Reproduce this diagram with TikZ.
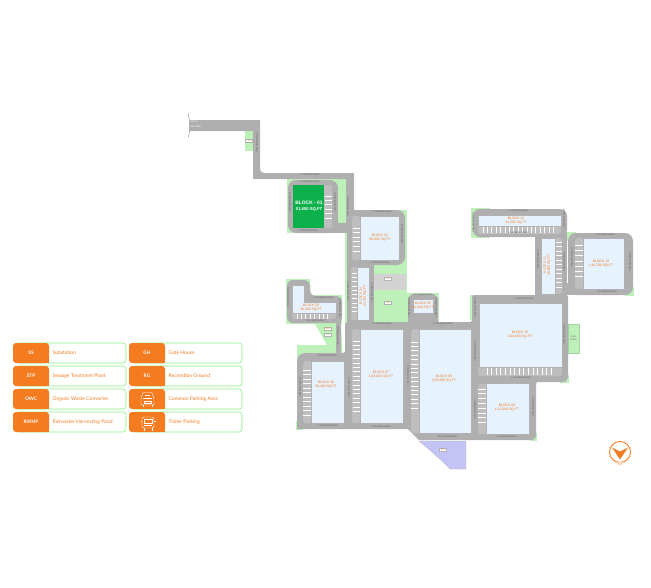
\documentclass[tikz,border=0pt]{standalone}
\usepackage{fontspec}
\setmainfont{Liberation Sans}
\newfontfamily\legendfont{Lato}
\definecolor{roadgrey}{HTML}{AFAFAF}
\definecolor{baygrey}{HTML}{BEBEBE}
\definecolor{lawn}{HTML}{BDF1B9}
\definecolor{blockfill}{HTML}{E6F2FD}
\definecolor{orangeA}{HTML}{F47B20}
\definecolor{blockgreen}{HTML}{0DB14B}
\definecolor{lav}{HTML}{C3C3F5}
\tikzset{
 road/.style={fill=roadgrey,draw=none},
 lawnarea/.style={fill=lawn,draw=none},
 bay/.style={fill=baygrey,draw=none,rounded corners=2.5pt},
 block/.style={fill=blockfill,draw=black!30,line width=0.3pt},
 stall/.style={draw=white,line width=0.7pt},
 blocklabel/.style={text=orangeA,font=\fontsize{3.4}{4.2}\selectfont,align=center,inner sep=0pt},
 roadlabel/.style={text=black!65,font=\fontsize{2.3}{3}\selectfont,inner sep=0pt},
 tag/.style={fill=white,draw=black!30,line width=0.25pt,text=orangeA,font=\fontsize{2}{2.4}\selectfont,minimum width=7pt,minimum height=3.2pt,inner sep=0pt},
 cardbox/.style={fill=white,draw=lawn!70!green,line width=0.6pt,rounded corners=3pt},
 cardhead/.style={fill=orangeA,draw=none,rounded corners=3pt},
 cardkey/.style={text=white,font=\legendfont\bfseries\fontsize{4.8}{6}\selectfont,inner sep=0pt},
 cardtext/.style={text=orangeA,font=\legendfont\fontsize{5}{6}\selectfont,anchor=west,inner sep=0pt},
 icon/.style={draw=white,line width=0.45pt,fill=none},
}
\begin{document}
\begin{tikzpicture}[x=1pt,y=-1pt]
\useasboundingbox (0,0) rectangle (651,587);
% ---- lawns
\fill[lawnarea] (245,131) rectangle (253,151);
\fill[lawnarea] (287,179) -- (346,179) -- (346,233) -- (287,233) -- cycle;
\fill[lawnarea] (345,233) rectangle (347,322);
\fill[lawnarea] (374,210) rectangle (407,322);
\fill[baygrey!70!white] (374,274) rectangle (406,290);
\fill[lawnarea] (286,279) -- (310,279) -- (310,295) -- (342,295) -- (342,324) -- (286,324) -- cycle;
\fill[lawnarea] (315,324) -- (336,324) -- (341,324) -- (343,360) -- (303,360) -- (297,366) -- (297,345) -- (327,345) -- cycle;
\fill[lawnarea] (296,421) rectangle (303,430);
\fill[lawnarea] (407,293) rectangle (439,322);
\fill[lawnarea] (471,208) rectangle (490,238);
\fill[lawnarea] (470,295) rectangle (475,320);
\fill[lawnarea] (567,232) rectangle (576,241);
\fill[lawnarea] (625,287) rectangle (634,296);
\fill[lawnarea] (530,433) rectangle (537,441);
\fill[lawnarea] (560,375) rectangle (569,383);
\fill[lawnarea,draw=lawn!70!black!40!lawn,line width=0.3pt] (568,324) rectangle (579,353);
% ---- trailer / STP plot
\fill[lav,draw=black!25,line width=0.3pt] (419,441) -- (466,441) -- (466,469) -- (450,469) -- (443,462) -- (432,452) -- cycle;
% ---- roads
\fill[road] (189,120) -- (260,120) [rounded corners=4pt] -- (260,173) [sharp corners] -- (354,173) -- (354,225) -- (346,225) -- (346,179) -- (253,179) -- (253,131) -- (189,131) -- cycle;
\fill[road,rounded corners=8pt] (288,180) rectangle (338,233);
\fill[lawnarea,rounded corners=4pt] (338,183) -- (346,183) -- (346,223) -- (338,223) -- cycle;
\fill[road] (326,223) rectangle (350,233);
\fill[road,rounded corners=8pt] (347,210) rectangle (405,265);
\fill[road] (347,258) rectangle (374,325);
\fill[road,rounded corners=6pt] (287,280) -- (310,280) -- (310,296) -- (342,296) -- (342,323) -- (287,323) -- cycle;
\fill[road] (336,313) rectangle (341,355);
\fill[road,rounded corners=6pt] (408,294) -- (438,294) -- (438,335) -- (408,335) -- cycle;
\fill[road] (297,429) [rounded corners=8pt] -- (297,353) [rounded corners=2pt] -- (345,353) -- (345,322) -- (472,322) -- (472,295) -- (568,295) [rounded corners=5pt] -- (568,382) [rounded corners=2pt] -- (536,382) [rounded corners=4pt] -- (536,440) [sharp corners] -- (419,440) -- (408,429) -- cycle;
\fill[road,rounded corners=7pt] (473,209) rectangle (567,237);
\fill[road] (535,232) rectangle (567,297);
\fill[road,rounded corners=8pt] (568,233) rectangle (633,295);
\fill[road] (560,283) rectangle (576,295);
% ---- parking bays
\fill[bay] (324,185) rectangle (332,228);
\fill[bay] (352,216) rectangle (361,260);
\fill[bay] (351,267) rectangle (358,320);
\fill[bay] (292,312) rectangle (336,319);
\fill[bay] (303,361) rectangle (312,423);
\fill[bay] (352,329) rectangle (361,423);
\fill[bay] (411,329) rectangle (420,433);
\fill[bay] (478,366) rectangle (562,376);
\fill[bay] (478,384) rectangle (487,434);
\fill[bay] (478,225) rectangle (561,234);
\fill[bay] (554,238) rectangle (562,294);
\fill[bay] (575,238) rectangle (584,289);
% ---- parking stalls
\foreach \y in {196,200.4,...,219} \draw[stall] (325,\y) -- (332,\y);
\foreach \y in {228,232.6,...,253} \draw[stall] (353,\y) -- (360,\y);
\foreach \y in {273,277.3,...,313} \draw[stall] (352,\y) -- (357,\y);
\foreach \x in {297,301.4,...,329} \draw[stall] (\x,313) -- (\x,319);
\foreach \y in {370,374.5,...,416} \draw[stall] (303,\y) -- (311,\y);
\foreach \y in {341,345.4,...,413} \draw[stall] (353,\y) -- (360,\y);
\foreach \y in {342,346.4,...,409} \draw[stall] (411,\y) -- (418,\y);
\foreach \x in {487,491.6,...,553} \draw[stall] (\x,368) -- (\x,375);
\foreach \y in {389,393.8,...,424} \draw[stall] (478,\y) -- (486,\y);
\foreach \x in {483,487.4,...,554} \draw[stall] (\x,227) -- (\x,233);
\foreach \y in {242,246.5,...,288} \draw[stall] (555,\y) -- (562,\y);
\foreach \y in {245,250.3,...,278} \draw[stall] (575,\y) -- (583,\y);
% ---- blocks
\fill[blockgreen] (293.3,185) rectangle (324,228);
\path[block] (360,216) rectangle (399,260);
\path[block] (292,285) -- (304,285) -- (304,302) -- (336,302) -- (336,313) -- (292,313) -- cycle;
\path[block] (357,267) rectangle (369,320);
\path[block] (413,299) rectangle (433,313);
\path[block] (311,361) rectangle (344,423);
\path[block] (360,329) rectangle (403,423);
\path[block] (419,329) rectangle (471,433);
\path[block] (486,383) rectangle (529,434);
\path[block] (479,303) rectangle (562,367);
\path[block] (541,238) rectangle (555,294);
\path[block] (478,215) rectangle (561,226);
\path[block] (583,238) rectangle (624,289);
% ---- gate flares
\draw[black!45,line width=0.4pt] (188,113) -- (190,123) (188,138) -- (190,131);
% ---- block labels
\node[text=white,font=\bfseries\fontsize{4.9}{6}\selectfont,align=center,inner sep=0pt] (b01) at (309,206) {BLOCK - 01\\{\fontsize{4.2}{5.5}\selectfont 01,800 SQ.FT}};
\node[blocklabel] (b02) at (380,238) {BLOCK 02\\68,000 SQ.FT};
\node[blocklabel] (b03) at (311,308) {BLOCK 03\\38,000 SQ.FT};
\node[blocklabel,rotate=90] (b04) at (363,296) {BLOCK 04\\52,700 SQ.FT};
\node[blocklabel] (b05) at (423,306) {BLOCK 05\\14,000 SQ.FT};
\node[blocklabel] (b06) at (326,385) {BLOCK 06\\58,400 SQ.FT};
\node[blocklabel] (b07) at (381,375) {BLOCK 07\\1,68,000 SQ.FT};
\node[blocklabel] (b08) at (444,379) {BLOCK 08\\2,55,000 SQ.FT};
\node[blocklabel] (b09) at (507,408) {BLOCK 09\\1,03,000 SQ.FT};
\node[blocklabel] (b10) at (520,335) {BLOCK 10\\2,48,000 SQ.FT};
\node[blocklabel,rotate=90] (b11) at (547,265) {BLOCK 11\\38,000 SQ.FT};
\node[blocklabel] (b12) at (516,220.5) {BLOCK 12\\14,500 SQ.FT};
\node[blocklabel] (b13) at (601,264) {BLOCK 13\\2,40,700 SQ.FT};
% ---- small tags
\node[tag] (gh) at (249,141) {GH};
\node[tag] (ss) at (388,279) {SS};
\node[tag] (rg) at (388,303) {RG};
\node[tag] (tagowc) at (328,329) {OWC};
\node[tag] (tagss) at (328,335) {SS};
\node[tag] (tagstp) at (443,450) {STP};
\node[text=black!60,font=\fontsize{2.2}{2.8}\selectfont,align=center,inner sep=0pt] (rwhp) at (573.5,338) {RWH\\POND};
% ---- road labels
\foreach \x/\y/\a [count=\i] in {
 257/143/90, 310/175/0, 310/182/0, 308/231/0, 290/203/90, 335/203/90, 348/207/90,
 382/212/0, 380/263/0, 402/235/90, 372/293/90, 348/292/90, 382/324/0, 409/308/90,
 288/298/90, 323/298/0, 315/321/0, 340/309/90, 338/337/90, 327/356/0,
 300/388/90, 328/426/0, 349/388/90, 381/427/0, 408/376/90,
 518/211/0, 473/223/90, 564/219/90, 518/233/0, 538/260/90, 564/262/90, 572/258/90,
 605/235/0, 607/292/0, 630/262/90, 524/299/0, 475/308/90, 423/295/0, 436/308/90,
 443/324/0, 475/352/90, 564/335/90, 521/378/0, 447/437/0, 475/410/90, 506/437/0, 533/407/90}
 { \node[roadlabel,rotate=\a] (rl\i) at (\x,\y) {7.5 M WIDE ROAD}; }
\node[roadlabel,text=white] (g1) at (193,122) {GATE IN};
\node[roadlabel,text=white] (g2) at (196,127) {GATE OUT};
% ---- legend
\foreach \xa/\xb/\xc/\ya/\yb/\key/\txt [count=\i] in {
 13/49/126/343/363/SS/Substation,
 13/49/126/366/386/STP/Sewage Treatment Plant,
 13/49/126/389/409/OWC/Organic Waste Converter,
 13/49/126/412/432/RWHP/Rainwater Harvesting Pond,
 129/165/242/343/363/GH/Gate House,
 129/165/242/366/386/RG/Recreation Ground,
 129/165/242/389/409/{}/Common Parking Area,
 129/165/242/412/432/{}/Trailer Parking}
 {
  \path[cardbox] (\xa+3,\ya) rectangle (\xc,\yb);
  \path[cardhead] (\xa,\ya) rectangle (\xb,\yb);
  \fill[orangeA] (\xb-4,\ya+4) rectangle (\xb,\yb);
  \node[cardkey] (key\i) at ({(\xa+\xb)/2},{(\ya+\yb)/2}) {\key};
  \node[cardtext] (txt\i) at (\xb+3.5,{(\ya+\yb)/2}) {\txt};
 }
% car icon
\draw[icon,rounded corners=1pt] (141,398) -- (143,392.5) -- (152,392.5) -- (154,398) -- (154,405) -- (141,405) -- cycle;
\draw[icon] (143,398) -- (152,398) (144,401) rectangle (151,403.5) (143,405) -- (143,407) (152,405) -- (152,407) (145,395) -- (150,395);
% trailer icon
\draw[icon,rounded corners=1.5pt] (142,417) rectangle (154,428);
\draw[icon] (144,419) rectangle (152,423) (144,425) -- (152,425) (144,428) -- (144,431) (152,428) -- (152,431) (142,421) -- (140.5,421) (154,421) -- (155.5,421);
% ---- north
\node[draw=orangeA,circle,line width=0.9pt,minimum size=21pt,inner sep=0pt] (northring) at (620,452) {};
\fill[orangeA] (612,447.5) -- (620,451.5) -- (628,447.5) -- (620,459.5) -- cycle;
\node[text=orangeA,font=\fontsize{5.5}{6}\selectfont,fill=white,inner sep=0.3pt] (northn) at (620,463.5) {N};
\end{tikzpicture}
\end{document}
